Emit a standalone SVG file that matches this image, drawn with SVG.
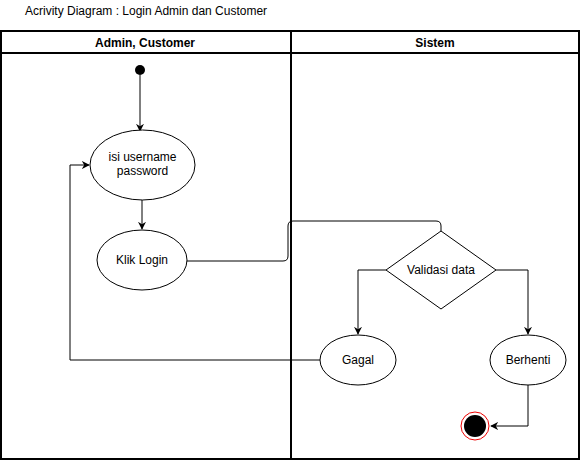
<svg xmlns="http://www.w3.org/2000/svg" width="582" height="461" viewBox="0 0 582 461">
<style>
text{font-family:"Liberation Sans",Arial,sans-serif;font-size:12px;fill:#000}
.hd{font-weight:bold}
.node{fill:#fff;stroke:#000;stroke-width:1}
.edge{fill:none;stroke:#000;stroke-width:1}
.lane{fill:none;stroke:#000;stroke-width:2}
</style>
<defs>
<marker id="arr" viewBox="0 0 10 10" refX="9" refY="5" markerWidth="8" markerHeight="8" markerUnits="userSpaceOnUse" orient="auto">
<path d="M0,0 L10,5 L0,10 L3,5 z" fill="#000"/>
</marker>
</defs>
<text x="25" y="15" fill="#222">Acrivity Diagram : Login Admin dan Customer</text>
<g id="lanes">
<rect class="lane" x="1" y="31" width="578" height="428"/>
<line class="lane" x1="1" y1="53" x2="579" y2="53"/>
<line class="lane" x1="291" y1="31" x2="291" y2="459"/>
<text class="hd" x="145" y="47" text-anchor="middle">Admin, Customer</text>
<text class="hd" x="435" y="47" text-anchor="middle">Sistem</text>
</g>
<g id="edges">
<path class="edge" d="M140,75 L140,131" marker-end="url(#arr)"/>
<path class="edge" d="M142,200 L142,229" marker-end="url(#arr)"/>
<path class="edge" d="M187,261 L283,261 Q288,261 288,256 L288,226 Q288,221 293,221 L436,221 Q441,221 441,226 L441,231"/>
<path class="edge" d="M386,270 L358,270 L358,334" marker-end="url(#arr)"/>
<path class="edge" d="M496,270 L528,270 L528,334" marker-end="url(#arr)"/>
<path class="edge" d="M320,360 L70,360 L70,165 L89,165" marker-end="url(#arr)"/>
<path class="edge" d="M528,385 L528,426 L491,426" marker-end="url(#arr)"/>
</g>
<g id="start"><circle cx="140" cy="70" r="5" fill="#000"/></g>
<g id="isi"><ellipse class="node" cx="142.5" cy="165" rx="52.5" ry="35"/><text x="142.5" y="161" text-anchor="middle">isi username</text><text x="142.5" y="175" text-anchor="middle">password</text></g>
<g id="klik"><ellipse class="node" cx="142" cy="260" rx="45" ry="30"/><text x="142" y="264" text-anchor="middle">Klik Login</text></g>
<g id="validasi"><polygon class="node" points="441,231 496,270 441,309 386,270"/><text x="441" y="274" text-anchor="middle">Validasi data</text></g>
<g id="gagal"><ellipse class="node" cx="358" cy="360" rx="38" ry="25"/><text x="358" y="364" text-anchor="middle">Gagal</text></g>
<g id="berhenti"><ellipse class="node" cx="528" cy="360" rx="38" ry="25"/><text x="528" y="364" text-anchor="middle">Berhenti</text></g>
<g id="end"><circle cx="475" cy="426" r="14" fill="#fff" stroke="#e00" stroke-width="1"/><circle cx="475" cy="426" r="11" fill="#000"/></g>
</svg>
